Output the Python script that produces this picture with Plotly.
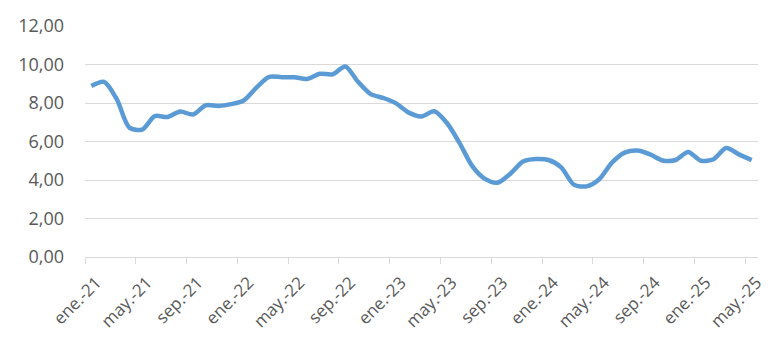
import plotly.graph_objects as go

months_es = ["ene.", "feb.", "mar.", "abr.", "may.", "jun.", "jul.", "ago.", "sep.", "oct.", "nov.", "dic."]
years = ["21", "22", "23", "24", "25"]
categories = [f"{m}-{y}" for y in years for m in months_es][:53]

values = [
    8.88, 9.10, 8.20, 6.72, 6.62, 7.32, 7.27, 7.56, 7.40, 7.88, 7.85, 7.94,
    8.13, 8.80, 9.36, 9.34, 9.34, 9.25, 9.52, 9.49, 9.90, 9.10, 8.46, 8.26,
    7.98, 7.50, 7.30, 7.57, 6.96, 5.92, 4.72, 4.06, 3.86, 4.33, 4.96, 5.09,
    5.04, 4.66, 3.76, 3.67, 4.04, 4.90, 5.42, 5.53, 5.33, 5.01, 5.04, 5.46,
    5.00, 5.08, 5.66, 5.33, 5.03,
]

y_ticks = [0, 2, 4, 6, 8, 10, 12]

fig = go.Figure()
fig.add_trace(go.Scatter(
    x=categories, y=values, mode="lines",
    line=dict(color="#5B9BD5", width=4.5, shape="spline", smoothing=0.8),
    hoverinfo="x+y",
))

font = dict(family="Open Sans, Liberation Sans, sans-serif", size=18, color="#595959")
xfont = dict(family="Open Sans, Liberation Sans, sans-serif", size=17, color="#595959")

fig.update_layout(
    width=772, height=353,
    margin=dict(l=77, r=22, t=18, b=104),
    paper_bgcolor="white", plot_bgcolor="white",
    separators=",.",
    showlegend=False,
    font=font,
    xaxis=dict(
        type="category",
        tickmode="linear", tick0=0, dtick=4,
        tickson="boundaries",
        ticks="outside", ticklen=6, tickcolor="#d9d9d9", tickwidth=1,
        tickangle=-45,
        ticklabelstandoff=8,
        ticklabelshift=5,
        showgrid=False,
        showline=True, linecolor="#d9d9d9", linewidth=1,
        range=[-0.5, len(categories) - 0.5],
        tickfont=xfont,
        automargin=False,
        fixedrange=True,
    ),
    yaxis=dict(
        range=[0, 12],
        tickvals=y_ticks,
        tickformat=".2f",
        showgrid=True, gridcolor="#d9d9d9", gridwidth=1,
        zeroline=False,
        showline=False,
        ticks="",
        ticklabelstandoff=20,
        tickfont=font,
        automargin=False,
        fixedrange=True,
    ),
)

fig.write_html("out.html")
